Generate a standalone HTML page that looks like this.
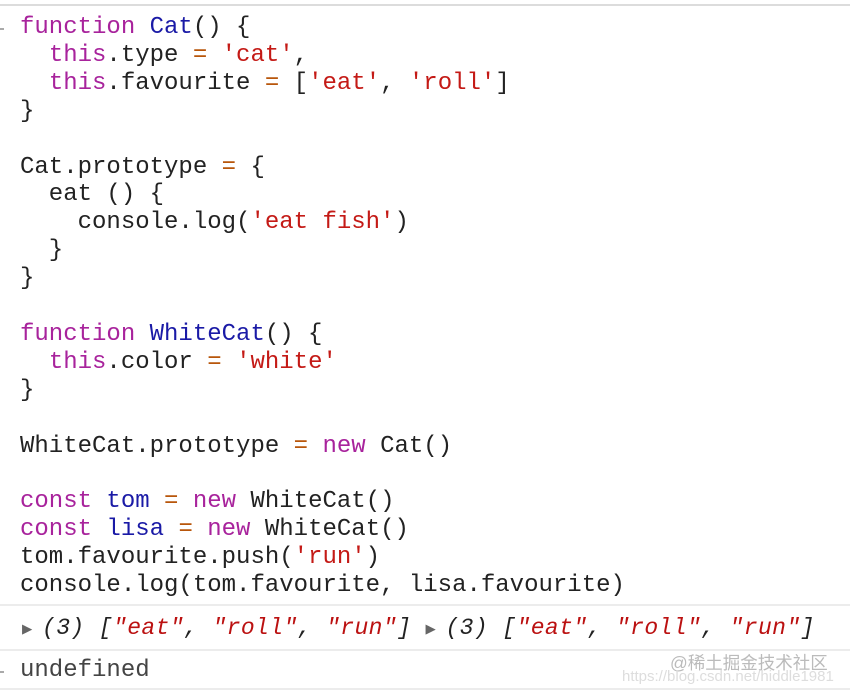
<!DOCTYPE html>
<html><head><meta charset="utf-8"><style>
body{margin:0;width:850px;height:691px;background:#fff;overflow:hidden;position:relative;font-family:"Liberation Mono",monospace;}
.top{position:absolute;left:0;top:4px;width:850px;height:2px;background:#dcdcdc}
pre{position:absolute;left:20px;top:14px;margin:0;font-size:24px;line-height:27.9px;color:#222;font-family:"Liberation Mono",monospace}
.k{color:#a8239c}.f{color:#1a1aa6}.s{color:#c41a16}.o{color:#b8560b}
.sep{position:absolute;left:0;width:850px;height:2px;background:#ececec}
.out{position:absolute;left:22px;top:615px;font-size:23px;font-style:italic;color:#222;white-space:pre;letter-spacing:0.4px}
.out .s{color:#b11}
.tri{font-style:normal;color:#666;font-size:17px;display:inline-block;width:20px}
.und{position:absolute;left:20px;top:657px;font-size:24px;color:#444}
.wm{position:absolute;left:670px;top:650px;font-family:"Liberation Sans","Noto Sans CJK SC",sans-serif;font-size:17.5px;color:#bbb}
.wm2{position:absolute;left:622px;top:668px;font-family:"Liberation Sans",sans-serif;font-size:15px;color:#ddd}
.lm{position:absolute;left:0;width:4px;height:2px;background:#aaa}
</style></head><body>
<div class="top"></div>
<div class="lm" style="top:28px"></div>
<pre><span class="k">function</span> <span class="f">Cat</span>() {
  <span class="k">this</span>.type <span class="o">=</span> <span class="s">'cat'</span>,
  <span class="k">this</span>.favourite <span class="o">=</span> [<span class="s">'eat'</span>, <span class="s">'roll'</span>]
}

Cat.prototype <span class="o">=</span> {
  eat () {
    console.log(<span class="s">'eat fish'</span>)
  }
}

<span class="k">function</span> <span class="f">WhiteCat</span>() {
  <span class="k">this</span>.color <span class="o">=</span> <span class="s">'white'</span>
}

WhiteCat.prototype <span class="o">=</span> <span class="k">new</span> Cat()

<span class="k">const</span> <span class="f">tom</span> <span class="o">=</span> <span class="k">new</span> WhiteCat()
<span class="k">const</span> <span class="f">lisa</span> <span class="o">=</span> <span class="k">new</span> WhiteCat()
tom.favourite.push(<span class="s">'run'</span>)
console.log(tom.favourite, lisa.favourite)</pre>
<div class="sep" style="top:604px"></div>
<div class="out"><span class="tri">▶</span>(3) [<span class="s">"eat"</span>, <span class="s">"roll"</span>, <span class="s">"run"</span>] <span class="tri">▶</span>(3) [<span class="s">"eat"</span>, <span class="s">"roll"</span>, <span class="s">"run"</span>]</div>
<div class="sep" style="top:649px"></div>
<div class="lm" style="top:671px"></div>
<div class="und">undefined</div>
<div class="wm">@稀土掘金技术社区</div>
<div class="wm2">https://blog.csdn.net/hiddle1981</div>
<div class="sep" style="top:688px"></div>
</body></html>
